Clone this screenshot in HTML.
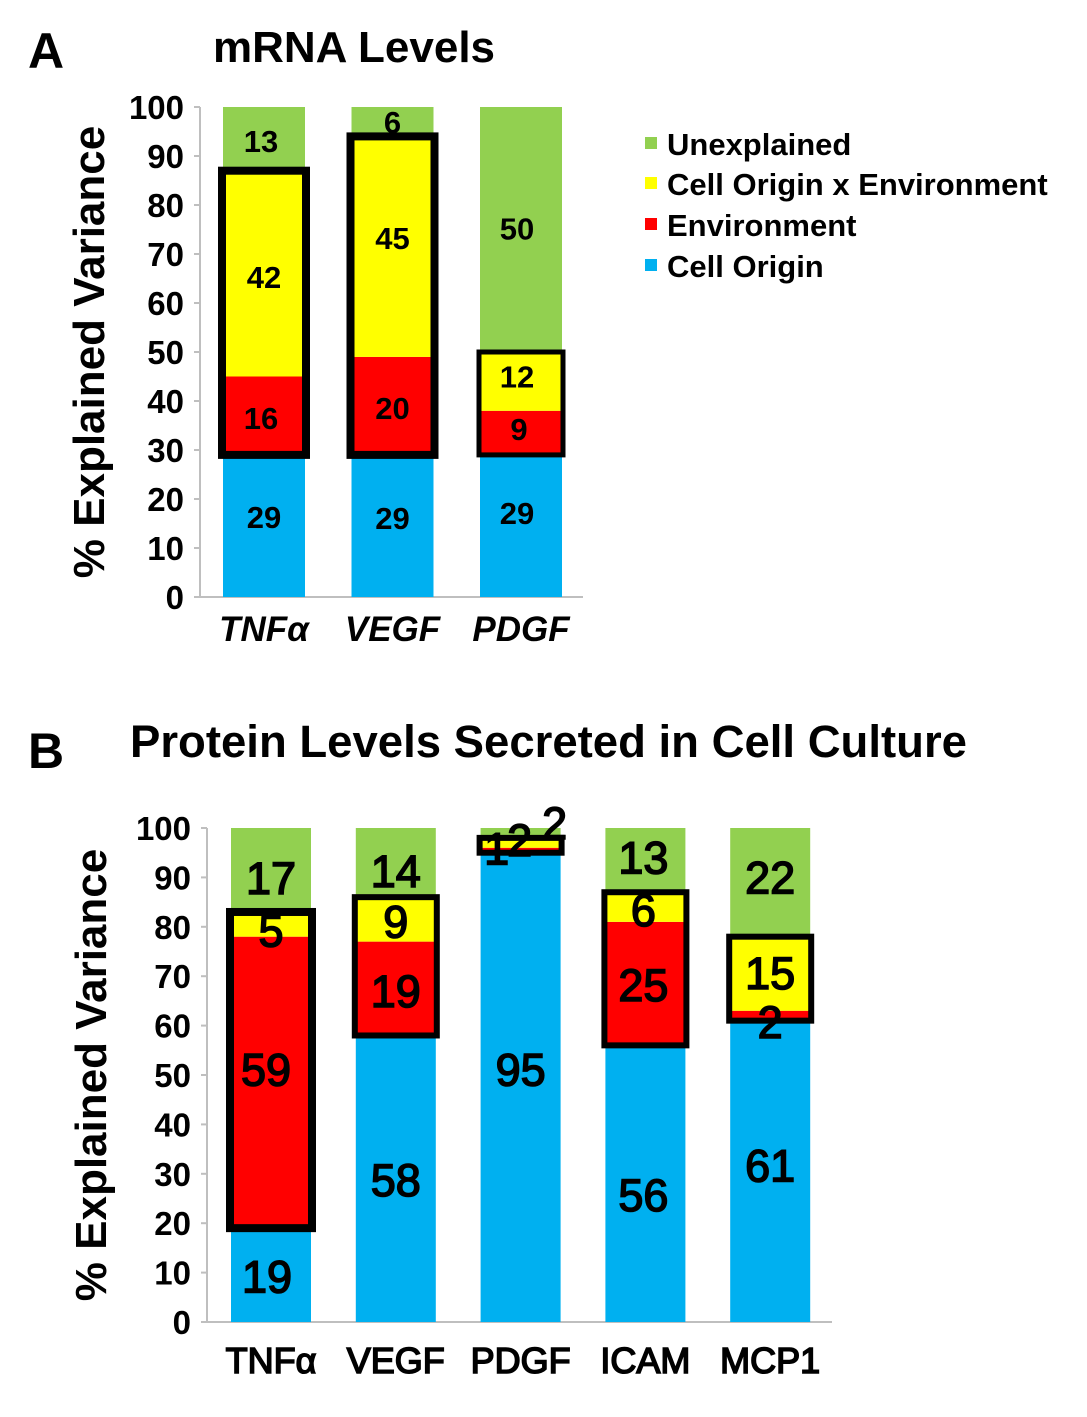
<!DOCTYPE html>
<html><head><meta charset="utf-8"><style>
body{margin:0;background:#fff}
svg{display:block;font-family:"Liberation Sans",Arial,sans-serif}
</style></head><body>
<svg id="fig" width="1087" height="1417" viewBox="0 0 1087 1417">
<text x="28" y="68" font-size="50" font-weight="bold">A</text>
<text x="213" y="62" font-size="44" font-weight="bold">mRNA Levels</text>
<text x="28" y="768" font-size="50" font-weight="bold">B</text>
<text x="130" y="757" font-size="45.5" font-weight="bold">Protein Levels Secreted in Cell Culture</text>
<g id="chartA"></g>
<g id="chartB"></g>
<g>
 <g><rect x="645" y="137" width="12" height="12" fill="#92d050"/><text x="667" y="155" font-size="31" font-weight="bold">Unexplained</text></g>
 <g><rect x="645" y="177" width="12" height="12" fill="#ffff00"/><text x="667" y="195" font-size="31" font-weight="bold">Cell Origin x Environment</text></g>
 <g><rect x="645" y="218" width="12" height="12" fill="#ff0000"/><text x="667" y="236" font-size="31" font-weight="bold">Environment</text></g>
 <g><rect x="645" y="259" width="12" height="12" fill="#00b0f0"/><text x="667" y="277" font-size="31" font-weight="bold">Cell Origin</text></g>
</g>
</svg>
<script>
const catsA = ["TNFα","VEGF","PDGF"];
const originA = [29,29,29];
const envA = [16,20,9];
const interA = [42,45,12];
const unexA = [13,6,50];
const catsB = ["TNFα","VEGF","PDGF","ICAM","MCP1"];
const originB = [19,58,95,56,61];
const envB = [59,19,1,25,2];
const interB = [5,9,2,6,15];
const unexB = [17,14,2,13,22];
const ticks = [0,10,20,30,40,50,60,70,80,90,100];

const NS="http://www.w3.org/2000/svg";
const colors=["#00b0f0","#ff0000","#ffff00","#92d050"];
const segNames=["cell-origin","environment","interaction","unexplained"];
function mk(parent,tag,attrs){const e=document.createElementNS(NS,tag);for(const k in attrs)e.setAttribute(k,attrs[k]);parent.appendChild(e);return e;}

function draw(g,cfg){
  const y=v=>cfg.y0-(cfg.y0-cfg.y100)*v/100;
  const x=i=>cfg.xStart+cfg.step*i;
  const ax=mk(g,"line",{x1:cfg.axX,y1:y(100),x2:cfg.axX,y2:y(0),stroke:"#bfbfbf","stroke-width":2});
  
  
  const bx=mk(g,"line",{x1:cfg.axX-6,y1:y(0),x2:cfg.axEnd,y2:y(0),stroke:"#bfbfbf","stroke-width":2});
  
  
  ticks.forEach(t=>{
    const tl=mk(g,"line",{x1:cfg.axX-6,y1:y(t),x2:cfg.axX,y2:y(t),stroke:"#bfbfbf","stroke-width":2});
    
    
    const tt=mk(g,"text",{x:cfg.axX-16,y:y(t)+12,"font-size":33,"font-weight":"bold","text-anchor":"end"});
    tt.textContent=t;
    
    
  });
  const yt=mk(g,"text",{x:0,y:0,"font-size":44,"font-weight":"bold","text-anchor":"middle",transform:`translate(${cfg.titleX},${(y(0)+y(100))/2}) rotate(-90)`});
  yt.textContent="% Explained Variance";
  
  
  cfg.cats.forEach((c,i)=>{
    const vals=[cfg.s[0][i],cfg.s[1][i],cfg.s[2][i],cfg.s[3][i]];
    let acc=0;const bounds=[];
    vals.forEach((v,k)=>{
      const r=mk(g,"rect",{x:x(i)-cfg.bw/2,y:y(acc+v),width:cfg.bw,height:y(acc)-y(acc+v),fill:colors[k]});
      
      
      bounds.push([acc,acc+v]);acc+=v;
    });
    const lo=bounds[1][0],hi=bounds[2][1];
    const bw=cfg.boxW[i];
    const box=mk(g,"rect",{x:x(i)-cfg.bw/2-1,y:y(hi),width:cfg.bw+2,height:y(lo)-y(hi),fill:"none",stroke:"#000","stroke-width":bw});
    
    
    vals.forEach((v,k)=>{
      const off=(cfg.off[i]&&cfg.off[i][k])||[0,0];
      const mid=(bounds[k][0]+bounds[k][1])/2;
      const t=mk(g,"text",{x:x(i)+off[0],y:y(mid)+cfg.fs*0.36+off[1],"font-size":cfg.fs,"font-weight":cfg.fw,"text-anchor":"middle",stroke:"#000","stroke-width":cfg.sw});
      t.textContent=v;
      
      
    });
    const xl=mk(g,"text",{x:x(i),y:cfg.xlY,"font-size":cfg.xfs,"font-weight":cfg.xfw,"font-style":cfg.italic?"italic":"normal","text-anchor":"middle",stroke:"#000","stroke-width":cfg.sw});
    xl.textContent=c;
    
    
  });
}
draw(document.getElementById("chartA"),{cats:catsA,s:[originA,envA,interA,unexA],y0:597,y100:107,xStart:264,step:128.5,bw:82,axX:200,axEnd:583,titleX:104,fs:31,fw:"bold",sw:0,xfs:35,xfw:"bold",italic:true,xlY:641,boxW:[8,8,5],
 off:[[[0,-9],[-3,2],[0,3],[-3,2]],[[0,-8],[0,2],[0,-9],[0,0]],[[-4,-13],[-2,-4],[-4,-5],[-4,-1]]]});
draw(document.getElementById("chartB"),{cats:catsB,s:[originB,envB,interB,unexB],y0:1322,y100:828,xStart:271,step:124.8,bw:80,axX:207,axEnd:832,titleX:106,fs:45,fw:"normal",sw:1.6,xfs:36,xfw:"normal",italic:false,xlY:1373,boxW:[8,6,6,6,6],
 off:[[[-4,1],[-5,-13],[0,6],[0,8]],[[0,1],[0,2],[0,2],[0,8]],[[0,-18],[-24,-2],[-1,-3],[34,-10]],[[-2,11],[-2,1],[-2,3],[-2,-3]],[[0,-6],[0,6],[0,-1],[0,-5]]]});
</script>
</body></html>
